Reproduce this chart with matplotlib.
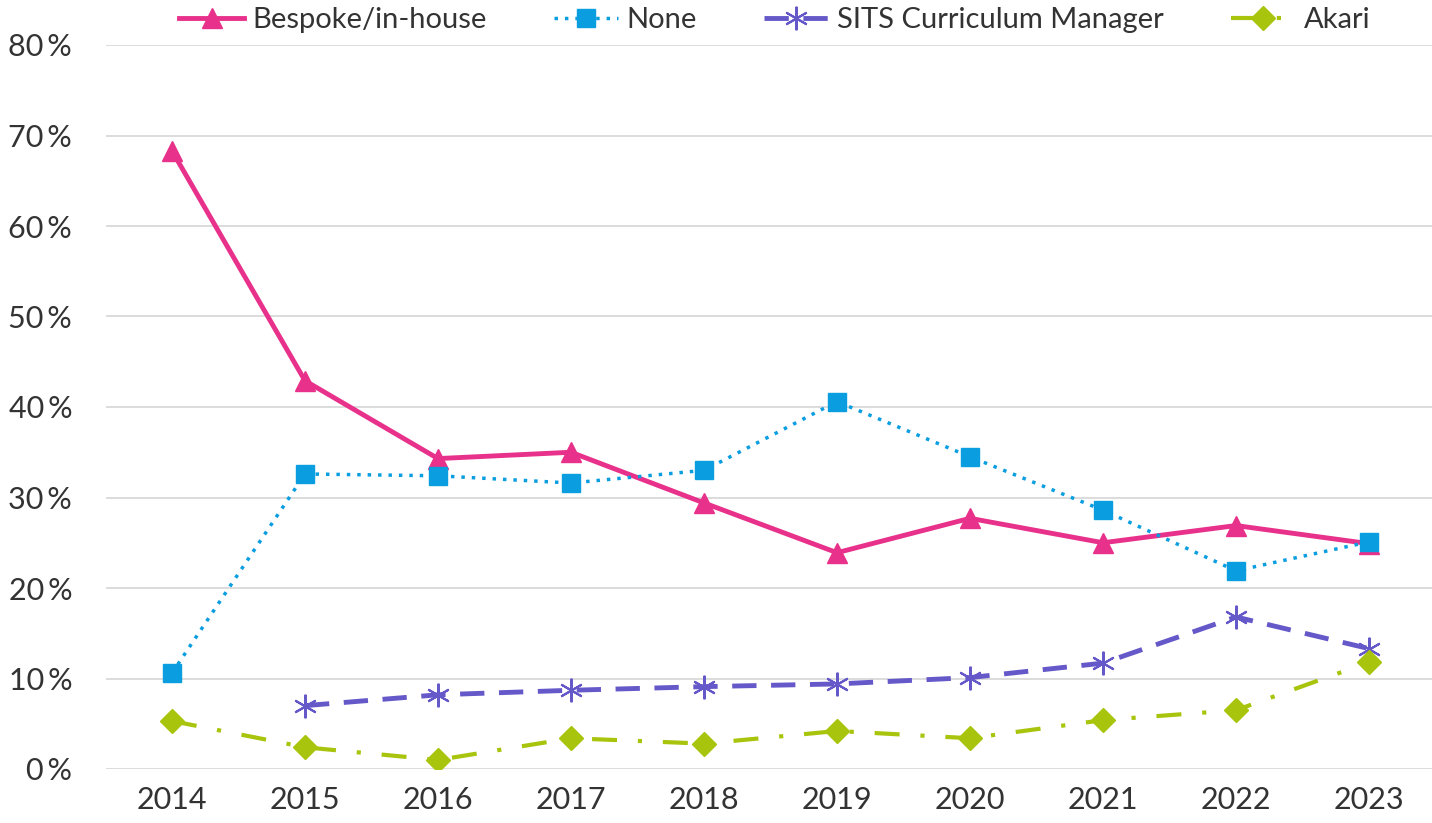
import matplotlib.pyplot as plt
import numpy as np

plt.rcParams['font.family'] = ['Lato', 'DejaVu Sans']

years = ['2014', '2015', '2016', '2017', '2018', '2019', '2020', '2021', '2022', '2023']
bespoke = [68.3, 42.9, 34.3, 35.0, 29.4, 23.9, 27.7, 25.0, 26.9, 24.9]
none_vals = [10.6, 32.6, 32.4, 31.6, 33.0, 40.6, 34.5, 28.6, 21.9, 25.1]
sits = [np.nan, 7.0, 8.2, 8.7, 9.1, 9.4, 10.1, 11.7, 16.8, 13.3]
akari = [5.3, 2.4, 1.0, 3.4, 2.8, 4.2, 3.4, 5.4, 6.5, 11.8]
yticks = [0, 10, 20, 30, 40, 50, 60, 70, 80]

x = np.arange(len(years))

fig = plt.figure(figsize=(14.32, 8.23), dpi=100)
ax = fig.add_axes([105.5 / 1432, 54 / 823, 1330 / 1432, 724 / 823])

ax.plot(x, bespoke, color='#E8318A', lw=3.5, marker='^', ms=15, label='Bespoke/in-house')
ax.plot(x, none_vals, color='#0A9EE0', lw=2.5, ls=(0, (1, 2)), marker='s', ms=13, label='None')
ax.plot(x, sits, color='#6558C8', lw=3.5, ls=(0, (5, 3)), marker=(6, 2, 0), ms=17, mew=1.5,
        label='SITS Curriculum Manager')
ax.plot(x, akari, color='#A9C40C', lw=3, ls=(0, (6, 5, 1, 5)), marker='D', ms=12, label='Akari')

ax.set_xlim(-0.5, 9.5)
ax.set_ylim(0, 80)
ax.set_xticks(x)
ax.set_xticklabels(years)
ax.set_yticks(yticks)
ax.set_yticklabels([f'{v}\u2009%' for v in yticks])
ax.tick_params(axis='both', length=0, labelsize=22, colors='#333333')
ax.tick_params(axis='x', pad=12)
ax.tick_params(axis='y', pad=24)
ax.grid(axis='y', color='#D9D9D9', lw=1.3)
ax.set_axisbelow(True)
for s in ax.spines.values():
    s.set_visible(False)

fig.legend(loc='center', bbox_to_anchor=(775 / 1432, 1 - 20 / 823), ncol=4, frameon=False,
           fontsize=21, handlelength=2.2, columnspacing=2.3, handletextpad=0.3,
           labelcolor='#333333')

fig.savefig('out.png', dpi=100)
